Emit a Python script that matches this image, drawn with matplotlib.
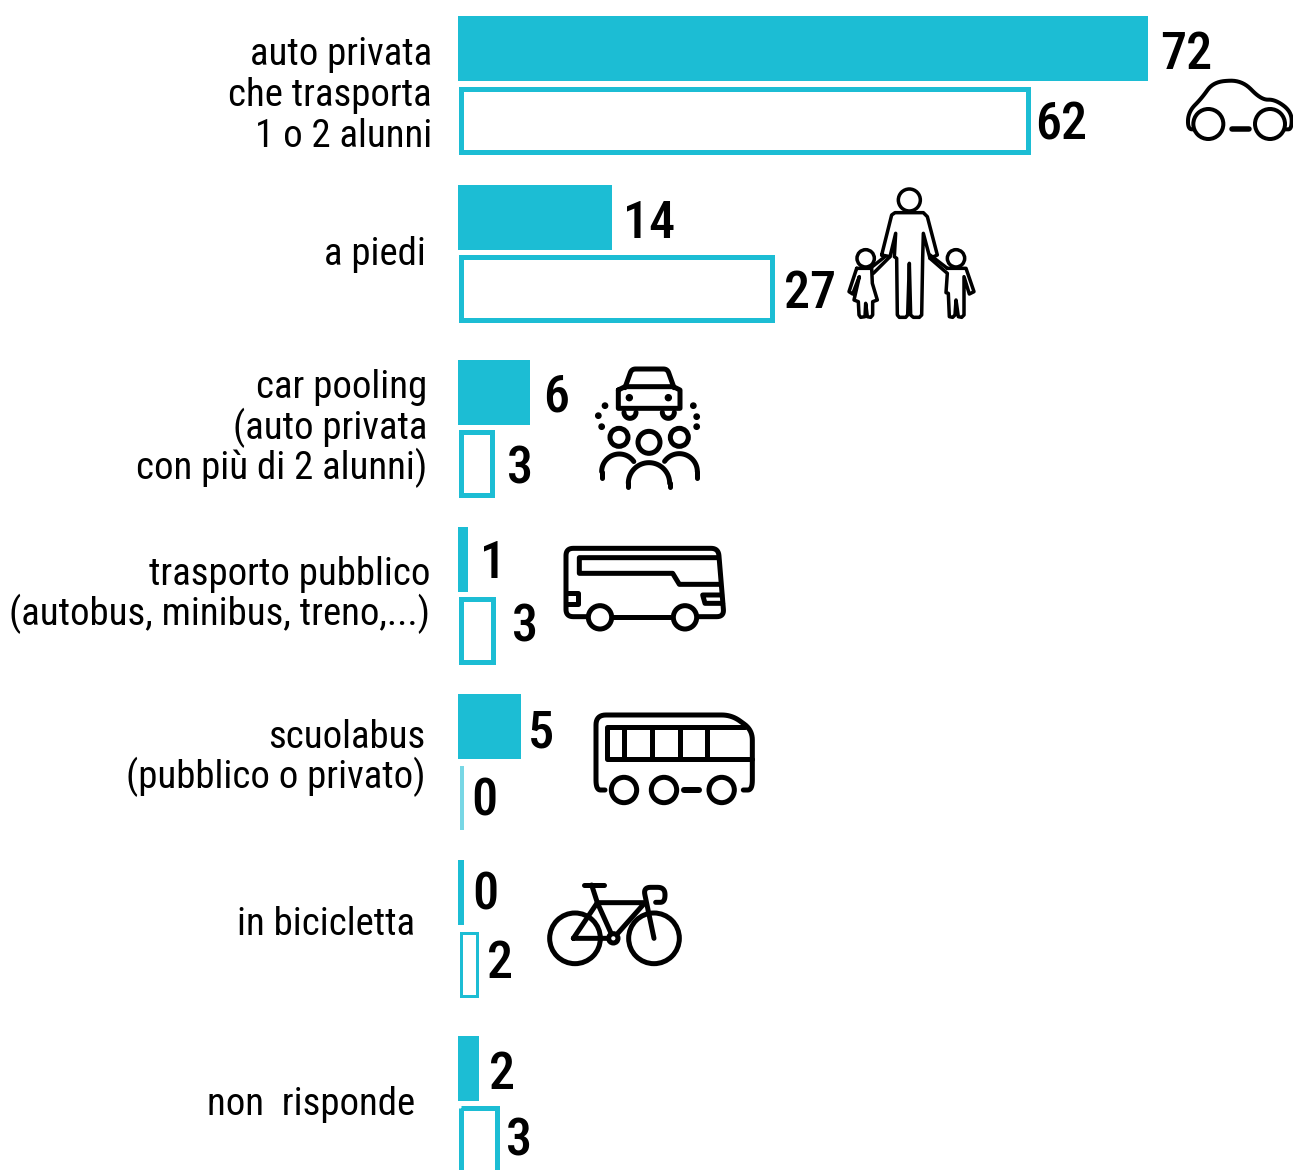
import numpy as np
import matplotlib
matplotlib.use('Agg')
import matplotlib.pyplot as plt

W, H = 1293, 1170
TEAL = '#1cbdd4'
FONT = 'Roboto Condensed'

filled_len = [72, 16.05, 7.5, 1.0, 6.6, 0.65, 2.2]
outline_len = [59.2, 32.5, 3.3, 3.4, 0.2, 1.7, 3.8]
filled_lab = ['72', '14', '6', '1', '5', '0', '2']
outline_lab = ['62', '27', '3', '3', '0', '2', '3']

labels = [['auto privata', 'che trasporta', '1 o 2 alunni'],
          ['a piedi'],
          ['car pooling', '(auto privata', 'con più di 2 alunni)'],
          ['trasporto pubblico', '(autobus, minibus, treno,...)'],
          ['scuolabus', '(pubblico o privato)'],
          ['in bicicletta'],
          ['non  risponde']]

# layout, pixels
label_right = [432, 426, 427, 430, 425, 415, 415]
label_base = [[65, 106, 147], [265], [398, 439, 479], [585, 625], [748, 788], [935], [1115]]
filled_top = [16, 185, 360, 527, 694, 860, 1036]
outline_top = [89, 257, 432, 599, 767, 933, 1108]
outline_bot = [152, 320, 495, 662, 829, 996, 1180]
outline_lw = [5, 5, 5, 5, 2, 3, 5]
outline_alpha = [1, 1, 1, 1, 0.6, 1, 1]
filled_num = [(1160, 69), (623, 238), (543, 411), (480, 578), (528, 747), (472, 910), (489, 1089)]
outline_num = [(1035, 140), (784, 308), (507, 484), (512, 642), (471, 816), (487, 978), (506, 1156)]

X0 = 458
SCALE = 9.58

fig = plt.figure(figsize=(W / 100, H / 100), dpi=100)
ax = fig.add_axes([0, 0, 1, 1])
ax.set_xlim(-X0 / SCALE, (W - X0) / SCALE)
ax.set_ylim(H, 0)
ax.axis('off')

ov = fig.add_axes([0, 0, 1, 1])
ov.set_xlim(0, W)
ov.set_ylim(H, 0)
ov.axis('off')
ov.patch.set_alpha(0)

for i in range(7):
    ax.barh(filled_top[i] + 32.5, filled_len[i], height=65, color=TEAL, linewidth=0)
    h = outline_bot[i] - outline_top[i]
    ax.barh(outline_top[i] + h / 2, outline_len[i], left=0.3, height=h, facecolor='none',
            edgecolor=TEAL, linewidth=outline_lw[i] * 0.72, alpha=outline_alpha[i])
    for line_txt, y in zip(labels[i], label_base[i]):
        ov.text(label_right[i], y, line_txt, ha='right', va='baseline', family=FONT,
                fontsize=28, color='black')
    ov.text(filled_num[i][0], filled_num[i][1], filled_lab[i], ha='left', va='baseline',
            family=FONT, fontsize=37.5, fontweight='medium', color='black')
    ov.text(outline_num[i][0], outline_num[i][1], outline_lab[i], ha='left', va='baseline',
            family=FONT, fontsize=37.5, fontweight='medium', color='black')


# icon helpers, coordinates taken in 3x zoom space from an offset
def rounded(pts, r):
    out = [np.array(pts[0], float)]
    for a, b, c in zip(pts[:-2], pts[1:-1], pts[2:]):
        a, b, c = np.array(a, float), np.array(b, float), np.array(c, float)
        d1 = min(r, np.linalg.norm(a - b) / 2)
        d2 = min(r, np.linalg.norm(c - b) / 2)
        p0 = b + (a - b) / np.linalg.norm(a - b) * d1
        p2 = b + (c - b) / np.linalg.norm(c - b) * d2
        for t in np.linspace(0, 1, 10):
            out.append((1 - t) ** 2 * p0 + 2 * t * (1 - t) * b + t ** 2 * p2)
    out.append(np.array(pts[-1], float))
    return out


def line(off, pts, lw=5, closed=False, r=0):
    if closed:
        pts = list(pts) + [pts[0]]
    if r:
        pts = rounded(pts, r)
    xs = [off[0] + p[0] / 3 for p in pts]
    ys = [off[1] + p[1] / 3 for p in pts]
    ov.plot(xs, ys, color='black', lw=lw * 0.72, solid_capstyle='round', solid_joinstyle='round')


def circ(off, cx, cy, r, lw=5, fill='white'):
    c = plt.Circle((off[0] + cx / 3, off[1] + cy / 3), r / 3, facecolor=fill, edgecolor='black',
                   linewidth=lw * 0.72, zorder=3)
    ov.add_patch(c)


def arc(off, cx, cy, r, a0, a1, lw=5):
    t = np.radians(np.linspace(a0, a1, 40))
    line(off, list(zip(cx + r * np.cos(t), cy - r * np.sin(t))), lw)


def dot(off, cx, cy, r=8):
    ov.add_patch(plt.Circle((off[0] + cx / 3, off[1] + cy / 3), r / 3, color='black'))


# car
off = (840, 70)
line(off, [(1070, 178), (1043, 178), (1045, 125), (1085, 85), (1120, 35), (1205, 30), (1265, 90), (1305, 88),
           (1355, 125), (1355, 178), (1335, 178)], 4, r=38)
circ(off, 1105, 162, 45, 4)
circ(off, 1290, 162, 45, 4)
line(off, [(1175, 178), (1226, 178)], 5.5)

# family
line(off, [(125, 555), (155, 435), (165, 428), (250, 428), (262, 440), (292, 555), (270, 565), (250, 490),
           (248, 565), (245, 735), (238, 742), (220, 742), (212, 735), (208, 580), (203, 735), (197, 742),
           (178, 742), (172, 735), (170, 565), (163, 560), (167, 490), (150, 560), (125, 555)], 3.5)
circ(off, 208, 390, 33, 3.5)
line(off, [(50, 595), (95, 595), (97, 640), (112, 690), (98, 695), (98, 735), (92, 742), (82, 740), (77, 700),
           (75, 740), (62, 742), (57, 735), (55, 695), (42, 690), (58, 620), (38, 672), (27, 665), (50, 595)], 3.5)
line(off, [(100, 610), (150, 560)], 3.5)
line(off, [(97, 590), (135, 560)], 3.5)
circ(off, 77, 565, 26, 3.5)
line(off, [(322, 595), (378, 595), (402, 665), (388, 672), (372, 620), (372, 735), (365, 742), (355, 740),
           (348, 690), (345, 735), (338, 742), (328, 740), (325, 670), (318, 668), (322, 610), (270, 565)], 3.5)
line(off, [(322, 595), (270, 555)], 3.5)
circ(off, 348, 565, 26, 3.5)

# car pooling
off = (580, 355)
line(off, [(135, 98), (155, 42), (262, 42), (282, 98)], 5, r=12)
line(off, [(115, 105), (135, 95), (280, 95), (300, 105), (300, 160), (115, 160)], 5, closed=True)
dot(off, 148, 128, 9)
dot(off, 265, 128, 9)
arc(off, 150, 172, 18, 180, 360, 5)
arc(off, 265, 172, 18, 180, 360, 5)
for p in [(75, 152), (55, 182), (65, 215), (340, 152), (350, 185), (350, 215)]:
    dot(off, p[0], p[1], 8)
circ(off, 117, 247, 27, 5)
circ(off, 207, 262, 33, 5)
circ(off, 298, 247, 27, 5)
line(off, [(65, 370), (65, 350)], 5)
arc(off, 118, 350, 53, 180, 35, 5)
arc(off, 207, 385, 62, 180, 0, 5)
line(off, [(145, 395), (145, 385)], 5)
line(off, [(269, 395), (269, 385)], 5)
line(off, [(352, 370), (352, 350)], 5)
arc(off, 298, 350, 54, 0, 145, 5)

# coach
off = (550, 535)
line(off, [(110, 245), (48, 245), (48, 40), (505, 40), (522, 245), (440, 245)], 5, r=22)
line(off, [(190, 245), (365, 245)], 5)
line(off, [(505, 68), (88, 68), (88, 115), (368, 115), (388, 148), (510, 148)], 5)
line(off, [(48, 175), (85, 175), (85, 208), (48, 208)], 5)
line(off, [(515, 180), (458, 180), (465, 205), (518, 205)], 5)
circ(off, 150, 247, 35, 5)
circ(off, 405, 247, 35, 5)

# school bus
line(off, [(165, 765), (138, 765), (138, 540), (545, 540), (607, 585), (607, 765), (580, 765)], 5, r=30)
line(off, [(585, 575), (172, 575), (172, 672), (605, 672)], 5)
for x in [222, 305, 390, 472]:
    line(off, [(x, 575), (x, 672)], 5)
circ(off, 222, 765, 38, 5)
circ(off, 342, 765, 38, 5)
circ(off, 515, 765, 38, 5)
line(off, [(403, 765), (447, 765)], 6)

# bike
off = (535, 870)
circ(off, 120, 205, 76, 5, 'none')
circ(off, 357, 205, 76, 5, 'none')
line(off, [(115, 205), (235, 205), (187, 98), (115, 205)], 5)
line(off, [(187, 98), (330, 98), (235, 205)], 5)
line(off, [(170, 45), (187, 98)], 5)
line(off, [(148, 45), (208, 45)], 5)
line(off, [(357, 205), (325, 52), (390, 52), (390, 97), (362, 97)], 5, r=22)
circ(off, 235, 205, 14, 5)

fig.savefig('out.png', dpi=100)
